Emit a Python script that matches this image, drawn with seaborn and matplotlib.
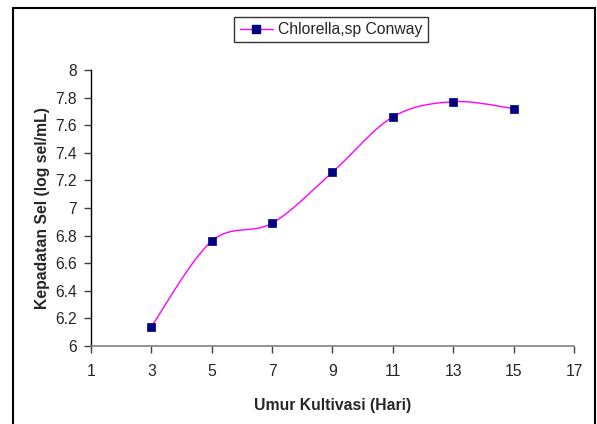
import numpy as np
import pandas as pd
import seaborn as sns
import matplotlib
matplotlib.use("Agg")
import matplotlib.pyplot as plt
from matplotlib.patches import Rectangle
from matplotlib.lines import Line2D

days = [3, 5, 7, 9, 11, 13, 15]
density = [6.14, 6.76, 6.89, 7.26, 7.66, 7.77, 7.72]
series_name = "Chlorella,sp Conway"
x_ticks = [1, 3, 5, 7, 9, 11, 13, 15, 17]
y_ticks = [6, 6.2, 6.4, 6.6, 6.8, 7, 7.2, 7.4, 7.6, 7.8, 8]
y_tick_labels = ["6", "6.2", "6.4", "6.6", "6.8", "7", "7.2", "7.4", "7.6", "7.8", "8"]

sns.set_style("white")
plt.rcParams["font.family"] = ["Liberation Sans", "DejaVu Sans"]

fig = plt.figure(figsize=(5.97, 4.24), dpi=100)
ax = fig.add_axes([0.1524, 0.184, 0.8091, 0.651])

# Excel-style smoothed line (Bezier through the data points)
def smooth(xs, ys, n=30):
    P = np.column_stack([xs, ys]).astype(float)
    out = []
    for i in range(len(P) - 1):
        p0 = P[i - 1] if i > 0 else P[i]
        p1 = P[i]
        p2 = P[i + 1]
        p3 = P[i + 2] if i + 2 < len(P) else P[i + 1]
        c1 = p1 + (p2 - p0) / 6
        c2 = p2 - (p3 - p1) / 6
        t = np.linspace(0, 1, n)[:, None]
        seg = ((1 - t) ** 3) * p1 + 3 * ((1 - t) ** 2) * t * c1 + 3 * (1 - t) * t ** 2 * c2 + t ** 3 * p2
        out.append(seg if i == 0 else seg[1:])
    return np.vstack(out)

curve = smooth(days, density)
df_curve = pd.DataFrame({"x": curve[:, 0], "y": curve[:, 1]})
sns.lineplot(data=df_curve, x="x", y="y", sort=False, estimator=None, color="#FF00FF", lw=1.0, ax=ax)
df = pd.DataFrame({"day": days, "density": density})
sns.scatterplot(data=df, x="day", y="density", marker="s", s=36, color="#000080",
                edgecolor="#000080", linewidth=0.5, zorder=3, ax=ax)

ax.set_xlim(1, 17)
ax.set_ylim(6, 8)
ax.set_xticks(x_ticks)
ax.set_xticklabels([str(v) for v in x_ticks])
ax.set_yticks(y_ticks)
ax.set_yticklabels(y_tick_labels)
for s in ["top", "right"]:
    ax.spines[s].set_visible(False)
ax.spines["left"].set_color("#000000")
ax.spines["bottom"].set_color("#808080")
ax.spines["left"].set_linewidth(1.0)
ax.spines["bottom"].set_linewidth(1.2)
ax.tick_params(axis="y", left=True, direction="out", length=5, width=1, color="#404040", pad=5, labelsize=11.3)
ax.tick_params(axis="x", bottom=True, direction="out", length=5, width=1, color="#404040", pad=8, labelsize=11.3)
ax.set_xlabel("Umur Kultivasi (Hari)", fontsize=11.3, fontweight="bold", labelpad=14)
ax.set_ylabel("Kepadatan Sel (log sel/mL)", fontsize=11.3, fontweight="bold", labelpad=4)
ax.grid(False)

handle = Line2D([], [], color="#FF00FF", lw=1.0, marker="s", markersize=6,
                markerfacecolor="#000080", markeredgecolor="#000080")
leg = fig.legend([handle], [series_name], loc="center", bbox_to_anchor=(331 / 597, 1 - 29.5 / 424),
                 fontsize=11.3, frameon=True, fancybox=False, edgecolor="black",
                 handlelength=2.1, borderpad=0.35, handletextpad=0.3)
leg.get_frame().set_linewidth(1.0)

fig.patches.append(Rectangle((13 / 597, -0.01), (595 - 13) / 597, 1 - 8 / 424 + 0.01,
                             transform=fig.transFigure, fill=False, edgecolor="black", lw=1.5))

fig.savefig("out.png", dpi=100)
